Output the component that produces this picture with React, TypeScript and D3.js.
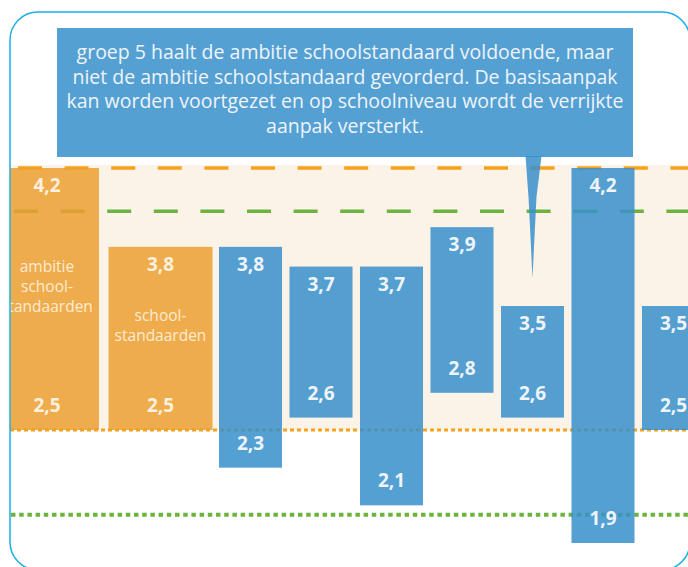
import React, { useEffect, useRef } from 'react'
import * as d3 from 'd3'

// Data
const standaarden = ['ambitie schoolstandaarden', 'schoolstandaarden']
const standaardHoog = [4.2, 3.8]
const standaardLaag = [2.5, 2.5]
const standaardTekst = [
  ['ambitie', 'school-', 'standaarden'],
  ['school-', 'standaarden']
]

const groepen = ['groep a', 'groep b', 'groep c', 'groep d', 'groep 5', 'groep f', 'groep g']
const groepHoog = [3.8, 3.7, 3.7, 3.9, 3.5, 4.2, 3.5]
const groepLaag = [2.3, 2.6, 2.1, 2.8, 2.6, 1.9, 2.5]

// reference lines: ambitie hoog, signaal hoog, ambitie laag, signaal laag
const lijnWaarden = [4.2, 3.98, 2.5, 2.05]

const calloutRegels = [
  'groep 5 haalt de ambitie schoolstandaard voldoende, maar',
  'niet de ambitie schoolstandaard gevorderd. De basisaanpak',
  'kan worden voortgezet en op schoolniveau wordt de verrijkte',
  'aanpak versterkt.'
]

const calloutGroep = 'groep 5'

export default function App() {
  const svgRef = useRef<SVGSVGElement | null>(null)

  useEffect(() => {
    drawChart(svgRef.current)
  }, [])

  return (
    <svg
      ref={svgRef}
      width={688}
      height={567}
      style={{ position: 'absolute', left: 0, top: 0 }}
    />
  )
}

function drawChart(el: SVGSVGElement | null) {
  if (!el) return
  const svg = d3.select(el)
  svg.selectAll('*').remove()

  // Dimensions
  const frame = { left: 10, top: 12, right: 690, bottom: 570, r: 28 }

  const font = '"Open Sans", "Noto Sans", sans-serif'
  const blue = '#378fcb'
  const orange = '#ec9f30'
  const fmt = d3
    .formatLocale({ decimal: ',', thousands: '.', grouping: [3], currency: ['€', ''] })
    .format('.1f')

  // Scales (the infographic uses a stretched middle segment)
  const y = d3
    .scaleLinear()
    .domain([1.9, 2.5, 3.5, 4.2])
    .range([543, 430, 306, 168])

  const xStandaard = d3
    .scaleBand()
    .domain(standaarden)
    .range([-5, 212.5])
    .paddingInner(0.084)

  const xGroep = d3
    .scaleBand()
    .domain(groepen)
    .range([219, 705])
    .paddingInner(0.106)

  // Frame clip
  svg
    .append('defs')
    .append('clipPath')
    .attr('id', 'frameClip')
    .append('rect')
    .attr('x', frame.left)
    .attr('y', frame.top)
    .attr('width', frame.right - frame.left)
    .attr('height', frame.bottom - frame.top)
    .attr('rx', frame.r)
    .attr('ry', frame.r)

  const g = svg.append('g').attr('clip-path', 'url(#frameClip)')

  // beige zone between ambitie hoog and laag
  g.append('rect')
    .attr('x', frame.left)
    .attr('y', y(lijnWaarden[0]) - 3)
    .attr('width', frame.right - frame.left)
    .attr('height', y(lijnWaarden[2]) - y(lijnWaarden[0]) + 3)
    .attr('fill', '#fbf3e7')

  // Reference lines
  const lijnStijl = [
    { color: '#f7a21b', width: 3.5, dash: '24 22.6', offset: 38.6 },
    { color: '#6db33f', width: 3.5, dash: '24 22.6', offset: 42.6 },
    { color: '#f7a21b', width: 3, dash: '4 3', offset: 0 },
    { color: '#6db33f', width: 4, dash: '4.5 3.7', offset: 7.2 }
  ]

  g.selectAll('line.ref')
    .data(lijnWaarden)
    .enter()
    .append('line')
    .attr('class', 'ref')
    .attr('x1', frame.left)
    .attr('x2', frame.right)
    .attr('y1', d => y(d))
    .attr('y2', d => y(d))
    .attr('stroke', (d, i) => lijnStijl[i].color)
    .attr('stroke-width', (d, i) => lijnStijl[i].width)
    .attr('stroke-dasharray', (d, i) => lijnStijl[i].dash)
    .attr('stroke-dashoffset', (d, i) => lijnStijl[i].offset)

  // Orange bars (schoolstandaarden)
  const sGroups = g
    .selectAll('g.standaard')
    .data(standaarden)
    .enter()
    .append('g')
    .attr('class', 'standaard')

  sGroups
    .append('rect')
    .attr('x', d => xStandaard(d) as number)
    .attr('y', (d, i) => y(standaardHoog[i]))
    .attr('width', xStandaard.bandwidth())
    .attr('height', (d, i) => y(standaardLaag[i]) - y(standaardHoog[i]))
    .attr('fill', orange)
    .attr('fill-opacity', 0.85)

  sGroups
    .append('text')
    .attr('x', d => (xStandaard(d) as number) + xStandaard.bandwidth() / 2)
    .attr('y', (d, i) => y(standaardHoog[i]) + 24)
    .text((d, i) => fmt(standaardHoog[i]))

  sGroups
    .append('text')
    .attr('x', d => (xStandaard(d) as number) + xStandaard.bandwidth() / 2)
    .attr('y', (d, i) => y(standaardLaag[i]) - 18)
    .text((d, i) => fmt(standaardLaag[i]))

  sGroups
    .selectAll('text')
    .attr('text-anchor', 'middle')
    .attr('font-family', font)
    .attr('font-weight', 700)
    .attr('font-size', 19)
    .attr('fill', '#fcf0de')

  sGroups.each(function (d, i) {
    const regels = standaardTekst[i]
    const cx = (xStandaard(d) as number) + xStandaard.bandwidth() / 2
    const mid = (y(standaardHoog[i]) + y(standaardLaag[i])) / 2 - 12
    const lh = 20
    d3.select(this)
      .selectAll('text.naam')
      .data(regels)
      .enter()
      .append('text')
      .attr('class', 'naam')
      .attr('x', cx)
      .attr('y', (r, j) => mid + (j - (regels.length - 1) / 2) * lh + 5)
      .attr('text-anchor', 'middle')
      .attr('font-family', font)
      .attr('font-size', 15.5)
      .attr('fill', '#fcebd2')
      .text(r => r)
  })

  // Blue bars (groepen)
  const bGroups = g
    .selectAll('g.groep')
    .data(groepen)
    .enter()
    .append('g')
    .attr('class', 'groep')

  bGroups
    .append('rect')
    .attr('x', d => xGroep(d) as number)
    .attr('y', (d, i) => y(groepHoog[i]))
    .attr('width', xGroep.bandwidth())
    .attr('height', (d, i) => y(groepLaag[i]) - y(groepHoog[i]))
    .attr('fill', blue)
    .attr('fill-opacity', 0.85)

  bGroups
    .append('text')
    .attr('x', d => (xGroep(d) as number) + xGroep.bandwidth() / 2)
    .attr('y', (d, i) => y(groepHoog[i]) + 24)
    .text((d, i) => fmt(groepHoog[i]))

  bGroups
    .append('text')
    .attr('x', d => (xGroep(d) as number) + xGroep.bandwidth() / 2)
    .attr('y', (d, i) => y(groepLaag[i]) - 18)
    .text((d, i) => fmt(groepLaag[i]))

  bGroups
    .selectAll('text')
    .attr('text-anchor', 'middle')
    .attr('font-family', font)
    .attr('font-weight', 700)
    .attr('font-size', 19)
    .attr('fill', '#eef4fa')

  // Callout
  const box = { x: 57, y: 28, w: 576, h: 129 }
  const gi = groepen.indexOf(calloutGroep)
  const tipX = (xGroep(calloutGroep) as number) + xGroep.bandwidth() / 2
  const tipY = y(groepHoog[gi]) - 28
  const baseY = box.y + box.h

  g.append('path')
    .attr(
      'd',
      d3.line()([
        [tipX - 7, baseY - 1],
        [tipX + 9, baseY - 1],
        [tipX + 4, baseY + 40],
        [tipX + 2, baseY + 80],
        [tipX, tipY],
        [tipX - 2, baseY + 80],
        [tipX - 4, baseY + 40]
      ]) + 'Z'
    )
    .attr('fill', blue)
    .attr('fill-opacity', 0.85)

  g.append('rect')
    .attr('x', box.x)
    .attr('y', box.y)
    .attr('width', box.w)
    .attr('height', box.h)
    .attr('fill', blue)
    .attr('fill-opacity', 0.85)

  g.selectAll('text.callout')
    .data(calloutRegels)
    .enter()
    .append('text')
    .attr('class', 'callout')
    .attr('x', box.x + box.w / 2)
    .attr('y', (d, i) => box.y + 31 + i * 24.7)
    .attr('text-anchor', 'middle')
    .attr('font-family', font)
    .attr('font-size', 19.5)
    .attr('fill', '#eef4fa')
    .text(d => d)

  // Frame border
  svg
    .append('rect')
    .attr('x', frame.left)
    .attr('y', frame.top)
    .attr('width', frame.right - frame.left)
    .attr('height', frame.bottom - frame.top)
    .attr('rx', frame.r)
    .attr('ry', frame.r)
    .attr('fill', 'none')
    .attr('stroke', '#1eaee6')
    .attr('stroke-width', 1.5)
}
